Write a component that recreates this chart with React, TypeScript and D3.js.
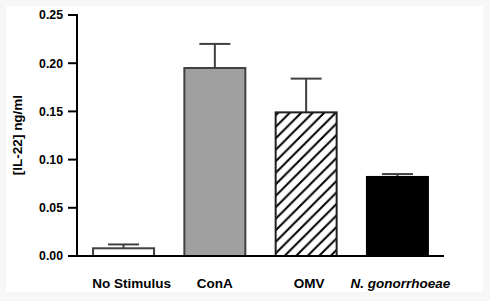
import React from "react";
import * as d3 from "d3";

const categories = ["No Stimulus", "ConA", "OMV", "N. gonorrhoeae"];
const means = [0.008, 0.195, 0.149, 0.082];
const errors = [0.004, 0.025, 0.035, 0.003];
const yTicks = [0.0, 0.05, 0.1, 0.15, 0.2, 0.25];
const yLabel = "[IL-22] ng/ml";

const W = 490;
const H = 301;
const axisX = 77;
const axisEnd = 444;
const yBottom = 256;
const yTop = 15;

const fills = ["#ffffff", "#a0a0a0", "url(#hatch)", "#000000"];
const strokes = ["#404040", "#404040", "#202020", "#000000"];
const labelDx = [8, 0, 3, 3];

export default function App() {
  const x = d3
    .scaleBand<string>()
    .domain(categories)
    .range([axisX, axisEnd])
    .paddingInner(0.332)
    .paddingOuter(0.176);
  const y = d3.scaleLinear().domain([0, 0.25]).range([yBottom, yTop]);
  const bw = x.bandwidth();
  const font = "'Liberation Sans', Arial, Helvetica, sans-serif";

  return (
    <svg
      width={W}
      height={H}
      style={{ position: "absolute", left: 0, top: 0, display: "block" }}
      fontFamily={font}
    >
      <defs>
        <pattern id="hatch" patternUnits="userSpaceOnUse" width={11.5} height={11.5}>
          <rect width={11.5} height={11.5} fill="#fff" />
          <path
            d="M-1,12.5 L12.5,-1 M-3,3 L3,-3 M8.5,14.5 L14.5,8.5"
            stroke="#000"
            strokeWidth={2}
          />
        </pattern>
      </defs>
      <rect x={0} y={0} width={W} height={H} fill="#f7f7f7" />
      <rect x={6} y={6} width={477} height={286} fill="#ffffff" />

      {/* bars */}
      {categories.map((c, i) => {
        const bx = x(c)!;
        const top = y(means[i]);
        const cx = bx + bw / 2;
        const et = y(means[i] + errors[i]);
        return (
          <g key={c}>
            <line x1={cx} x2={cx} y1={top} y2={et} stroke="#404040" strokeWidth={2} />
            <line x1={cx - 15.5} x2={cx + 15.5} y1={et} y2={et} stroke="#404040" strokeWidth={2} />
            <rect
              x={bx}
              y={top}
              width={bw}
              height={yBottom - top}
              fill={fills[i]}
              stroke={strokes[i]}
              strokeWidth={2}
            />
          </g>
        );
      })}

      {/* y axis */}
      <line x1={axisX} x2={axisX} y1={yTop - 1} y2={yBottom + 1} stroke="#000" strokeWidth={2} />
      {yTicks.map((t) => (
        <g key={t}>
          <line x1={axisX - 9} x2={axisX} y1={y(t)} y2={y(t)} stroke="#000" strokeWidth={2} />
          <text
            x={axisX - 14}
            y={y(t)}
            dy="0.36em"
            textAnchor="end"
            fontSize={12.3}
            fontWeight="bold"
            fill="#000"
          >
            {d3.format(".2f")(t)}
          </text>
        </g>
      ))}

      {/* x axis */}
      <line x1={axisX - 1} x2={axisEnd} y1={yBottom} y2={yBottom} stroke="#000" strokeWidth={2} />
      {categories.map((c, i) => (
        <text
          key={c}
          x={x(c)! + bw / 2 + labelDx[i]}
          y={288}
          textAnchor="middle"
          fontSize={13.5}
          fontWeight="bold"
          fontStyle={i === 3 ? "italic" : "normal"}
          fill="#000"
        >
          {c}
        </text>
      ))}

      {/* y label */}
      <text
        transform={`translate(22,135) rotate(-90)`}
        textAnchor="middle"
        fontSize={13.5}
        fontWeight="bold"
        fill="#000"
      >
        {yLabel}
      </text>
    </svg>
  );
}
